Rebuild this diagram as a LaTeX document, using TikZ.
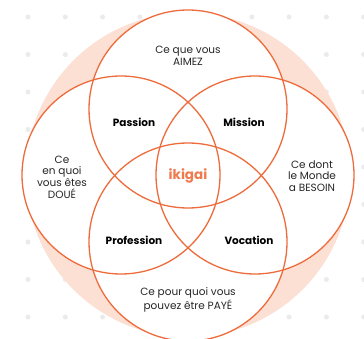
\documentclass[tikz,border=0pt]{standalone}
\usepackage{fontspec}
\setmainfont{Poppins}
\definecolor{ikorange}{HTML}{EE6B3B}
\definecolor{ikpeach}{HTML}{FCE0D4}
\definecolor{iktext}{HTML}{EF7A4C}
\definecolor{ikdot}{HTML}{EBEBEB}
\begin{document}
\begin{tikzpicture}[x=1pt,y=-1pt,
  ring/.style={draw=ikorange,line width=1.3pt},
  region/.style={font=\fontsize{10.5}{11.7}\selectfont,align=center,text=black!85,inner sep=0pt},
  zone/.style={font=\fontsize{10.5}{12}\selectfont\bfseries,text=black,inner sep=0pt},
]
\useasboundingbox (0,0) rectangle (364,339);
\fill[white] (0,0) rectangle (364,339);
% dot grid
\foreach \i in {0,...,9}{
  \foreach \j in {0,...,8}{
    \fill[ikdot] (28+37.3*\i,17+37.5*\j) circle (2.5);
  }
}
% peach background
\fill[ikpeach] (188,175) circle (162);
% white circles
\foreach \cx/\cy in {188/109,121/175,255/175,188/242}{
  \fill[white] (\cx,\cy) circle (99);
}
% outlines
\coordinate (ctop) at (188,109);
\coordinate (cleft) at (121,175);
\coordinate (cright) at (255,175);
\coordinate (cbot) at (188,242);
\draw[ring] (ctop) circle (99);
\draw[ring] (cleft) circle (99);
\draw[ring] (cright) circle (99);
\draw[ring] (cbot) circle (99);
% labels
\node[region] (aimez) at (188,56) {Ce que vous\\AIMEZ};
\node[region] (doue) at (62,177) {Ce\\en quoi\\vous êtes\\DOUÉ};
\node[region] (besoin) at (312,176) {Ce dont\\le Monde\\a BESOIN};
\node[region] (paye) at (188,300) {Ce pour quoi vous\\pouvez être PAYÉ};
\node[zone] (passion) at (134,122) {Passion};
\node[zone] (mission) at (244,122) {Mission};
\node[zone] (profession) at (134,240) {Profession};
\node[zone] (vocation) at (249,240) {Vocation};
\node[font=\fontsize{13.5}{16}\selectfont\bfseries,text=iktext,inner sep=0pt] (ikigai) at (188,176) {ikigai};
\end{tikzpicture}
\end{document}
